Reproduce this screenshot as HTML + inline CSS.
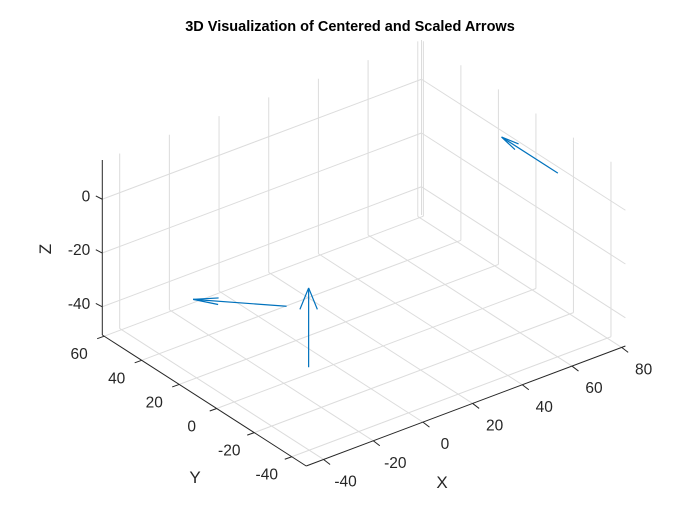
<!DOCTYPE html>
<html><head><meta charset="utf-8">
<style>
html,body{margin:0;padding:0;background:#fff;}
svg{display:block;font-family:"Liberation Sans",Arial,sans-serif;}
</style></head>
<body>
<svg id="chart" width="700" height="525" viewBox="0 0 700 525">
<rect width="700" height="525" fill="#fff"/>
<text x="350" y="31" text-anchor="middle" font-weight="bold" font-size="14.5" fill="#000">3D Visualization of Centered and Scaled Arrows</text>
<g id="grid"></g>
<g id="axes"></g>
<g id="arrows"></g>
<text x="442" y="488" text-anchor="middle" font-size="17" fill="#262626">X</text>
<text x="195" y="483" text-anchor="middle" font-size="17" fill="#262626">Y</text>
<text x="0" y="0" transform="translate(51,249) rotate(-90)" text-anchor="middle" font-size="17" fill="#262626">Z</text>
</svg>
<script>
// axis limits & ticks
const xLim = [-47, 81.5];
const yLim = [-47.7, 61];
const zLim = [-50.5, 14.6];
const xTicks = [-40, -20, 0, 20, 40, 60, 80];
const yTicks = [-40, -20, 0, 20, 40, 60];
const zTicks = [-40, -20, 0];
// arrows: start points and vectors
const arrowX = [-10, 0, 79];
const arrowY = [0, 25, -15];
const arrowZ = [-48, -40, 0];
const arrowU = [0, -21, 0];
const arrowV = [0, 22, 30];
const arrowW = [29.5, 0, 0];

// projection (screen geometry)
const O = [306.2, 466];
const EX = [319.2, -120];
const EY = [-203.9, -131];
const EZ = [0, -175];
function P(x, y, z) {
  const a = (x - xLim[0]) / (xLim[1] - xLim[0]);
  const b = (y - yLim[0]) / (yLim[1] - yLim[0]);
  const c = (z - zLim[0]) / (zLim[1] - zLim[0]);
  return [O[0] + a*EX[0] + b*EY[0] + c*EZ[0], O[1] + a*EX[1] + b*EY[1] + c*EZ[1]];
}
const NS = 'http://www.w3.org/2000/svg';
function line(g, p, q, color, w, name) {
  const l = document.createElementNS(NS, 'line');
  l.setAttribute('x1', p[0].toFixed(2)); l.setAttribute('y1', p[1].toFixed(2));
  l.setAttribute('x2', q[0].toFixed(2)); l.setAttribute('y2', q[1].toFixed(2));
  l.setAttribute('stroke', color); l.setAttribute('stroke-width', w);
  
  
  g.appendChild(l);
  return l;
}
function text(g, x, y, s, anchor, name) {
  const t = document.createElementNS(NS, 'text');
  t.setAttribute('x', x.toFixed(2)); t.setAttribute('y', y.toFixed(2));
  t.setAttribute('text-anchor', anchor); t.setAttribute('font-size', '15.5');
  t.setAttribute('fill', '#262626');
  t.textContent = s;
  
  
  g.appendChild(t);
}
const grid = document.getElementById('grid');
const gc = '#dcdcdc';
const [x0, x1] = xLim, [y0, y1] = yLim, [z0, z1] = zLim;
xTicks.forEach(x => line(grid, P(x, y0, z0), P(x, y1, z0), gc, 1, 'floor-gridline-x'));
yTicks.forEach(y => line(grid, P(x0, y, z0), P(x1, y, z0), gc, 1, 'floor-gridline-y'));
xTicks.forEach(x => line(grid, P(x, y1, z0), P(x, y1, z1), gc, 1, 'back-wall-gridline-x'));
zTicks.forEach(z => line(grid, P(x0, y1, z), P(x1, y1, z), gc, 1, 'back-wall-gridline-z'));
yTicks.forEach(y => line(grid, P(x1, y, z0), P(x1, y, z1), gc, 1, 'side-wall-gridline-y'));
zTicks.forEach(z => line(grid, P(x1, y0, z), P(x1, y1, z), gc, 1, 'side-wall-gridline-z'));
line(grid, P(x1, y1, z0), P(x1, y1, z1), gc, 1, 'back-corner-edge');

const axes = document.getElementById('axes');
const ac = '#262626';
line(axes, P(x0, y0, z0), P(x1, y0, z0), ac, 1, 'x-axis-line');
line(axes, P(x0, y0, z0), P(x0, y1, z0), ac, 1, 'y-axis-line');
line(axes, P(x0, y1, z0), P(x0, y1, z1), ac, 1, 'z-axis-line');
xTicks.forEach(x => {
  const p = P(x, y0, z0);
  line(axes, p, [p[0] + 6.5, p[1] + 5], ac, 1, 'x-tick');
  text(axes, p[0] + 22, p[1] + 27, String(x), 'middle', 'x-tick-label');
});
yTicks.forEach(y => {
  const p = P(x0, y, z0);
  line(axes, p, [p[0] - 7, p[1] + 2.5], ac, 1, 'y-tick');
  text(axes, p[0] - 25, p[1] + 23, String(y), 'middle', 'y-tick-label');
});
zTicks.forEach(z => {
  const p = P(x0, y1, z);
  line(axes, p, [p[0] - 6.5, p[1] - 3.3], ac, 1, 'z-tick');
  text(axes, p[0] - 12, p[1] + 2, String(z), 'end', 'z-tick-label');
});

const arrows = document.getElementById('arrows');
const headW = [0.11, 0.035, 0.05];
const ac2 = '#0072bd';
for (let i = 0; i < arrowX.length; i++) {
  const s = P(arrowX[i], arrowY[i], arrowZ[i]);
  const t = P(arrowX[i] + arrowU[i], arrowY[i] + arrowV[i], arrowZ[i] + arrowW[i]);
  line(arrows, s, t, ac2, 1.2, 'arrow-shaft');
  const dx = t[0] - s[0], dy = t[1] - s[1];
  const L = Math.hypot(dx, dy);
  const ux = dx / L, uy = dy / L;
  const hb = 0.27 * L, hw = headW[i] * L;
  const b = [t[0] - ux*hb, t[1] - uy*hb];
  line(arrows, t, [b[0] - uy*hw, b[1] + ux*hw], ac2, 1.2, 'arrow-head-barb');
  line(arrows, t, [b[0] + uy*hw, b[1] - ux*hw], ac2, 1.2, 'arrow-head-barb');
}
</script>
</body></html>
